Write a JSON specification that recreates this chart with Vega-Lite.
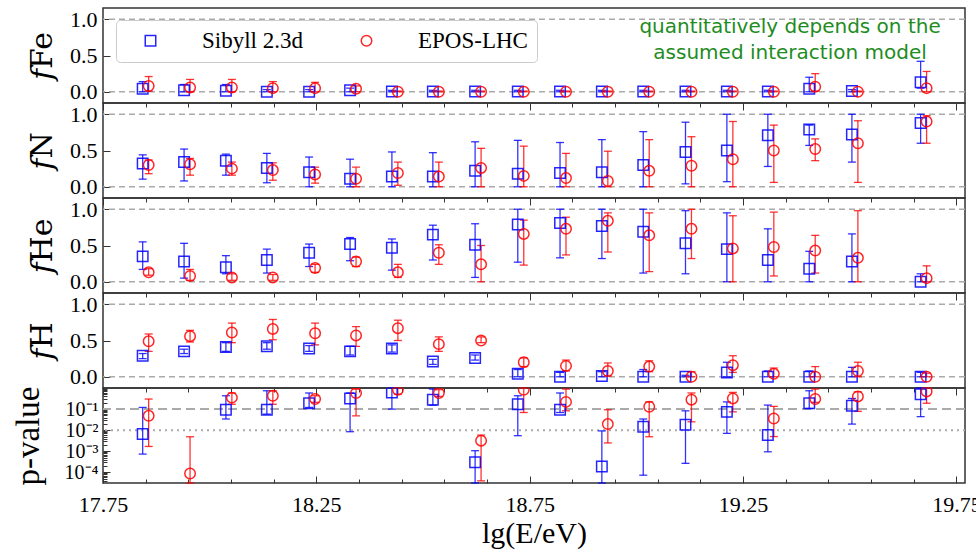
{
"$schema": "https://vega.github.io/schema/vega-lite/v6.json",
"background": "white",
"padding": {"left": 11, "top": 7, "right": 5, "bottom": 3},
"config": {
  "view": {"stroke": "#333333", "strokeWidth": 1.5},
  "axis": {"labelFont": "Liberation Serif", "titleFont": "Liberation Serif", "labelColor": "black", "titleColor": "black", "tickColor": "#333333", "domain": false, "grid": false, "labelFontSize": 22, "titleFontWeight": "normal", "tickWidth": 1, "labelOverlap": false},
  "legend": {"title": null, "orient": "none", "legendX": 13, "legendY": 12, "direction": "horizontal", "columns": 2, "fillColor": "white", "strokeColor": "#cccccc", "cornerRadius": 4, "padding": 9, "labelFont": "Liberation Serif", "labelFontSize": 23, "labelColor": "black", "labelOffset": 40, "columnPadding": 38, "symbolSize": 110, "symbolStrokeWidth": 1.5, "symbolOffset": 14, "labelLimit": 300, "symbolFillColor": "white"}
},
"datasets": {"d": [
{"m":"Sibyll 2.3d","x":17.843,"fe":0.04,"feL":0,"feH":0.14,"n":0.32,"nL":0.105,"nH":0.44,"he":0.35,"heL":0.17,"heH":0.55,"h":0.29,"hL":0.25,"hH":0.32,"p":0.0066,"pL":0.00074,"pH":0.12},
{"m":"Sibyll 2.3d","x":17.94,"fe":0.02,"feL":0,"feH":0.10,"n":0.34,"nL":0.08,"nH":0.52,"he":0.28,"heL":0.05,"heH":0.53,"h":0.35,"hL":0.32,"hH":0.38,"p":null,"pL":null,"pH":null},
{"m":"Sibyll 2.3d","x":18.038,"fe":0.015,"feL":0,"feH":0.10,"n":0.36,"nL":0.16,"nH":0.45,"he":0.20,"heL":0.11,"heH":0.36,"h":0.41,"hL":0.35,"hH":0.47,"p":0.093,"pL":0.034,"pH":0.43},
{"m":"Sibyll 2.3d","x":18.134,"fe":0,"feL":0,"feH":0.03,"n":0.26,"nL":0.055,"nH":0.46,"he":0.30,"heL":0.12,"heH":0.45,"h":0.42,"hL":0.38,"hH":0.47,"p":0.093,"pL":0.058,"pH":0.74},
{"m":"Sibyll 2.3d","x":18.233,"fe":0,"feL":0,"feH":0.03,"n":0.20,"nL":0,"nH":0.41,"he":0.40,"heL":0.21,"heH":0.52,"h":0.39,"hL":0.35,"hH":0.43,"p":0.19,"pL":0.12,"pH":0.58},
{"m":"Sibyll 2.3d","x":18.329,"fe":0.02,"feL":0,"feH":0.05,"n":0.11,"nL":0,"nH":0.38,"he":0.52,"heL":0.29,"heH":0.61,"h":0.35,"hL":0.30,"hH":0.42,"p":0.32,"pL":0.0085,"pH":0.58},
{"m":"Sibyll 2.3d","x":18.427,"fe":0.005,"feL":0,"feH":0.02,"n":0.14,"nL":0,"nH":0.48,"he":0.47,"heL":0.16,"heH":0.59,"h":0.39,"hL":0.34,"hH":0.44,"p":0.62,"pL":0.1,"pH":1},
{"m":"Sibyll 2.3d","x":18.523,"fe":0.005,"feL":0,"feH":0.02,"n":0.14,"nL":0,"nH":0.47,"he":0.65,"heL":0.30,"heH":0.78,"h":0.21,"hL":0.17,"hH":0.24,"p":0.28,"pL":0.155,"pH":0.89},
{"m":"Sibyll 2.3d","x":18.622,"fe":0.005,"feL":0,"feH":0.02,"n":0.22,"nL":0,"nH":0.62,"he":0.51,"heL":0.06,"heH":0.80,"h":0.26,"hL":0.23,"hH":0.30,"p":0.0003,"pL":0.00003,"pH":0.00107},
{"m":"Sibyll 2.3d","x":18.722,"fe":0.005,"feL":0,"feH":0.02,"n":0.18,"nL":0,"nH":0.64,"he":0.79,"heL":0.27,"heH":1,"h":0.04,"hL":0,"hH":0.10,"p":0.17,"pL":0.0055,"pH":0.43},
{"m":"Sibyll 2.3d","x":18.821,"fe":0.005,"feL":0,"feH":0.02,"n":0.19,"nL":0,"nH":0.61,"he":0.81,"heL":0.33,"heH":1,"h":0,"hL":0,"hH":0.06,"p":0.093,"pL":0.069,"pH":0.58},
{"m":"Sibyll 2.3d","x":18.919,"fe":0.005,"feL":0,"feH":0.02,"n":0.20,"nL":0,"nH":0.65,"he":0.77,"heL":0.32,"heH":1,"h":0.01,"hL":0,"hH":0.07,"p":0.00019,"pL":0.00001,"pH":0.0093},
{"m":"Sibyll 2.3d","x":19.016,"fe":0.005,"feL":0,"feH":0.02,"n":0.30,"nL":0,"nH":0.76,"he":0.69,"heL":0.12,"heH":1,"h":0,"hL":0,"hH":0.10,"p":0.0145,"pL":0.000074,"pH":0.034},
{"m":"Sibyll 2.3d","x":19.115,"fe":0.005,"feL":0,"feH":0.02,"n":0.48,"nL":0.04,"nH":0.89,"he":0.53,"heL":0.11,"heH":0.98,"h":0,"hL":0,"hH":0.02,"p":0.018,"pL":0.00027,"pH":0.083},
{"m":"Sibyll 2.3d","x":19.212,"fe":0.005,"feL":0,"feH":0.02,"n":0.50,"nL":0.07,"nH":1,"he":0.45,"heL":0,"heH":0.95,"h":0.06,"hL":0,"hH":0.20,"p":0.074,"pL":0.0071,"pH":0.22},
{"m":"Sibyll 2.3d","x":19.308,"fe":0.005,"feL":0,"feH":0.02,"n":0.71,"nL":0.28,"nH":1,"he":0.30,"heL":0,"heH":0.73,"h":0,"hL":0,"hH":0.08,"p":0.006,"pL":0.00095,"pH":0.155},
{"m":"Sibyll 2.3d","x":19.405,"fe":0.04,"feL":0,"feH":0.20,"n":0.79,"nL":0.57,"nH":0.85,"he":0.18,"heL":0,"heH":0.42,"h":0,"hL":0,"hH":0.08,"p":0.19,"pL":0.107,"pH":0.74},
{"m":"Sibyll 2.3d","x":19.505,"fe":0.01,"feL":0,"feH":0.03,"n":0.72,"nL":0.34,"nH":1,"he":0.28,"heL":0,"heH":0.66,"h":0,"hL":0,"hH":0.13,"p":0.145,"pL":0.0195,"pH":0.32},
{"m":"Sibyll 2.3d","x":19.666,"fe":0.13,"feL":0.05,"feH":0.42,"n":0.88,"nL":0.60,"nH":1,"he":0,"heL":0,"heH":0.11,"h":0,"hL":0,"hH":0.06,"p":0.51,"pL":0.044,"pH":1},
{"m":"EPOS-LHC","x":17.857,"fe":0.08,"feL":0.01,"feH":0.21,"n":0.30,"nL":0.18,"nH":0.37,"he":0.13,"heL":0.09,"heH":0.18,"h":0.49,"hL":0.35,"hH":0.59,"p":0.048,"pL":0.0017,"pH":0.30},
{"m":"EPOS-LHC","x":17.954,"fe":0.06,"feL":0,"feH":0.17,"n":0.31,"nL":0.16,"nH":0.39,"he":0.08,"heL":0.02,"heH":0.17,"h":0.56,"hL":0.48,"hH":0.64,"p":0.000089,"pL":0.00001,"pH":0.0049},
{"m":"EPOS-LHC","x":18.052,"fe":0.06,"feL":0,"feH":0.17,"n":0.25,"nL":0.16,"nH":0.34,"he":0.06,"heL":0.02,"heH":0.11,"h":0.61,"hL":0.47,"hH":0.74,"p":0.35,"pL":0.17,"pH":0.58},
{"m":"EPOS-LHC","x":18.148,"fe":0.05,"feL":0,"feH":0.14,"n":0.23,"nL":0.09,"nH":0.33,"he":0.06,"heL":0.02,"heH":0.10,"h":0.66,"hL":0.51,"hH":0.79,"p":0.43,"pL":0.17,"pH":0.74},
{"m":"EPOS-LHC","x":18.247,"fe":0.05,"feL":0,"feH":0.13,"n":0.17,"nL":0.05,"nH":0.27,"he":0.19,"heL":0.13,"heH":0.24,"h":0.60,"hL":0.44,"hH":0.74,"p":0.30,"pL":0.21,"pH":0.43},
{"m":"EPOS-LHC","x":18.343,"fe":0.04,"feL":0,"feH":0.08,"n":0.11,"nL":0,"nH":0.27,"he":0.28,"heL":0.21,"heH":0.34,"h":0.57,"hL":0.42,"hH":0.69,"p":0.58,"pL":0.048,"pH":0.89},
{"m":"EPOS-LHC","x":18.441,"fe":0,"feL":0,"feH":0.01,"n":0.19,"nL":0.02,"nH":0.34,"he":0.13,"heL":0.06,"heH":0.24,"h":0.67,"hL":0.50,"hH":0.78,"p":0.83,"pL":0.51,"pH":1},
{"m":"EPOS-LHC","x":18.537,"fe":0,"feL":0,"feH":0.01,"n":0.14,"nL":0,"nH":0.34,"he":0.40,"heL":0.24,"heH":0.51,"h":0.45,"hL":0.35,"hH":0.55,"p":0.58,"pL":0.40,"pH":0.83},
{"m":"EPOS-LHC","x":18.636,"fe":0,"feL":0,"feH":0.01,"n":0.26,"nL":0,"nH":0.53,"he":0.24,"heL":0,"heH":0.50,"h":0.50,"hL":0.47,"hH":0.55,"p":0.0032,"pL":0.00004,"pH":0.0059},
{"m":"EPOS-LHC","x":18.736,"fe":0,"feL":0,"feH":0.01,"n":0.15,"nL":0,"nH":0.56,"he":0.66,"heL":0.23,"heH":0.85,"h":0.20,"hL":0.14,"hH":0.26,"p":0.83,"pL":0.069,"pH":1},
{"m":"EPOS-LHC","x":18.835,"fe":0,"feL":0,"feH":0.01,"n":0.12,"nL":0,"nH":0.46,"he":0.73,"heL":0.37,"heH":0.89,"h":0.15,"hL":0.08,"hH":0.23,"p":0.22,"pL":0.083,"pH":0.89},
{"m":"EPOS-LHC","x":18.933,"fe":0,"feL":0,"feH":0.01,"n":0.08,"nL":0,"nH":0.49,"he":0.84,"heL":0.41,"heH":0.95,"h":0.08,"hL":0.01,"hH":0.19,"p":0.0195,"pL":0.0025,"pH":0.093},
{"m":"EPOS-LHC","x":19.03,"fe":0,"feL":0,"feH":0.01,"n":0.22,"nL":0,"nH":0.65,"he":0.64,"heL":0.14,"heH":0.95,"h":0.14,"hL":0.07,"hH":0.22,"p":0.129,"pL":0.0049,"pH":0.22},
{"m":"EPOS-LHC","x":19.129,"fe":0,"feL":0,"feH":0.01,"n":0.29,"nL":0,"nH":0.69,"he":0.73,"heL":0.32,"heH":1,"h":0,"hL":0,"hH":0.07,"p":0.28,"pL":0.025,"pH":0.58},
{"m":"EPOS-LHC","x":19.226,"fe":0,"feL":0,"feH":0.01,"n":0.38,"nL":0,"nH":0.90,"he":0.46,"heL":0,"heH":0.91,"h":0.16,"hL":0.06,"hH":0.29,"p":0.32,"pL":0.074,"pH":0.62},
{"m":"EPOS-LHC","x":19.322,"fe":0,"feL":0,"feH":0.01,"n":0.50,"nL":0.06,"nH":0.85,"he":0.48,"heL":0.08,"heH":0.96,"h":0.04,"hL":0,"hH":0.12,"p":0.036,"pL":0.005,"pH":0.135},
{"m":"EPOS-LHC","x":19.419,"fe":0.07,"feL":0.01,"feH":0.25,"n":0.52,"nL":0.36,"nH":0.66,"he":0.43,"heL":0.12,"heH":0.64,"h":0,"hL":0,"hH":0.14,"p":0.30,"pL":0.21,"pH":0.89},
{"m":"EPOS-LHC","x":19.519,"fe":0,"feL":0,"feH":0.01,"n":0.60,"nL":0.06,"nH":0.91,"he":0.33,"heL":0,"heH":0.98,"h":0.08,"hL":0,"hH":0.20,"p":0.40,"pL":0.078,"pH":0.66},
{"m":"EPOS-LHC","x":19.68,"fe":0.05,"feL":0,"feH":0.28,"n":0.90,"nL":0.60,"nH":0.98,"he":0.05,"heL":0,"heH":0.22,"h":0,"hL":0,"hH":0.05,"p":0.69,"pL":0.19,"pH":1}
]},
"bounds": "flush",
"spacing": 0,
"vconcat": [
{
 "width": 862, "height": 95,
 "layer": [
  {"data": {"values": [{"r": 0}, {"r": 1}]}, "mark": {"type": "rule", "color": "#aaaaaa", "strokeDash": [6, 4], "strokeWidth": 1.5},
   "encoding": {"y": {"field": "r", "type": "quantitative", "title": "𝑓Fe", "scale": {"domain": [-0.155, 1.155], "nice": false, "zero": false},
      "axis": {"values": [0,0.5,1], "labelOverlap": false, "format": ".1f", "tickSize": -7, "labelPadding": 13, "titleFont": "DejaVu Serif", "titleFontSize": 30, "titlePadding": 12}}}},
  {"data": {"values": [{"t": "quantitatively depends on the\nassumed interaction model"}]}, "mark": {"type": "text", "font": "DejaVu Sans", "fontSize": 20, "color": "#1e8c1e", "align": "center", "baseline": "middle", "lineBreak": "\n", "lineHeight": 26}, "encoding": {"x": {"datum": 19.36, "type": "quantitative", "title": null}, "y": {"datum": 0.89, "type": "quantitative", "title": "𝑓Fe"}, "text": {"field": "t"}}},
  {"data": {"name": "d"}, "transform": [{"filter": "datum.m == 'Sibyll 2.3d'"}], "mark": {"type": "errorbar", "ticks": {"size": 8}, "thickness": 1.3, "opacity": 0.8, "color": "#0000ff"},
   "encoding": {"x": {"field": "x", "type": "quantitative", "title": null}, "y": {"field": "feL", "type": "quantitative", "title": "𝑓Fe"}, "y2": {"field": "feH"}}},
  {"data": {"name": "d"}, "transform": [{"filter": "datum.m == 'EPOS-LHC'"}], "mark": {"type": "errorbar", "ticks": {"size": 8}, "thickness": 1.3, "opacity": 0.8, "color": "#ff0000"},
   "encoding": {"x": {"field": "x", "type": "quantitative", "title": null}, "y": {"field": "feL", "type": "quantitative", "title": "𝑓Fe"}, "y2": {"field": "feH"}}},
  {"data": {"name": "d"}, "mark": {"type": "point", "filled": false, "size": 110, "strokeWidth": 1.5, "opacity": 0.85},
   "encoding": {
    "x": {"field": "x", "type": "quantitative", "title": null, "scale": {"domain": [17.75, 19.77], "nice": false, "zero": false},
      "axis": {"values": [17.75,17.8,17.85,17.9,17.95,18,18.05,18.1,18.15,18.2,18.25,18.3,18.35,18.4,18.45,18.5,18.55,18.6,18.65,18.7,18.75,18.8,18.85,18.9,18.95,19,19.05,19.1,19.15,19.2,19.25,19.3,19.35,19.4,19.45,19.5,19.55,19.6,19.65,19.7,19.75], "labels": false, "title": null, "tickSize": {"condition": {"test": "abs(datum.value*4 - round(datum.value*4)) < 0.01", "value": 7}, "value": 4}}},
    "y": {"field": "fe", "type": "quantitative", "title": "𝑓Fe"},
    "color": {"field": "m", "type": "nominal", "title": null, "scale": {"domain": ["Sibyll 2.3d", "EPOS-LHC"], "range": ["#0000ff", "#ff0000"]}},
    "shape": {"field": "m", "type": "nominal", "title": null, "scale": {"domain": ["Sibyll 2.3d", "EPOS-LHC"], "range": ["square", "circle"]}}
   }}
 ]
},
{
 "width": 862, "height": 95,
 "layer": [
  {"data": {"values": [{"r": 0}, {"r": 1}]}, "mark": {"type": "rule", "color": "#aaaaaa", "strokeDash": [6, 4], "strokeWidth": 1.5},
   "encoding": {"y": {"field": "r", "type": "quantitative", "title": "𝑓N", "scale": {"domain": [-0.155, 1.155], "nice": false, "zero": false},
      "axis": {"values": [0,0.5,1], "labelOverlap": false, "format": ".1f", "tickSize": -7, "labelPadding": 13, "titleFont": "DejaVu Serif", "titleFontSize": 30, "titlePadding": 12}}}},
  {"data": {"name": "d"}, "transform": [{"filter": "datum.m == 'Sibyll 2.3d'"}], "mark": {"type": "errorbar", "ticks": {"size": 8}, "thickness": 1.3, "opacity": 0.8, "color": "#0000ff"},
   "encoding": {"x": {"field": "x", "type": "quantitative", "title": null}, "y": {"field": "nL", "type": "quantitative", "title": "𝑓N"}, "y2": {"field": "nH"}}},
  {"data": {"name": "d"}, "transform": [{"filter": "datum.m == 'EPOS-LHC'"}], "mark": {"type": "errorbar", "ticks": {"size": 8}, "thickness": 1.3, "opacity": 0.8, "color": "#ff0000"},
   "encoding": {"x": {"field": "x", "type": "quantitative", "title": null}, "y": {"field": "nL", "type": "quantitative", "title": "𝑓N"}, "y2": {"field": "nH"}}},
  {"data": {"name": "d"}, "mark": {"type": "point", "filled": false, "size": 110, "strokeWidth": 1.5, "opacity": 0.85},
   "encoding": {
    "x": {"field": "x", "type": "quantitative", "title": null, "scale": {"domain": [17.75, 19.77], "nice": false, "zero": false},
      "axis": {"values": [17.75,17.8,17.85,17.9,17.95,18,18.05,18.1,18.15,18.2,18.25,18.3,18.35,18.4,18.45,18.5,18.55,18.6,18.65,18.7,18.75,18.8,18.85,18.9,18.95,19,19.05,19.1,19.15,19.2,19.25,19.3,19.35,19.4,19.45,19.5,19.55,19.6,19.65,19.7,19.75], "labels": false, "title": null, "tickSize": {"condition": {"test": "abs(datum.value*4 - round(datum.value*4)) < 0.01", "value": 7}, "value": 4}}},
    "y": {"field": "n", "type": "quantitative", "title": "𝑓N"},
    "color": {"field": "m", "type": "nominal", "title": null, "scale": {"domain": ["Sibyll 2.3d", "EPOS-LHC"], "range": ["#0000ff", "#ff0000"]}},
    "shape": {"field": "m", "type": "nominal", "title": null, "scale": {"domain": ["Sibyll 2.3d", "EPOS-LHC"], "range": ["square", "circle"]}}
   }}
 ]
},
{
 "width": 862, "height": 95,
 "layer": [
  {"data": {"values": [{"r": 0}, {"r": 1}]}, "mark": {"type": "rule", "color": "#aaaaaa", "strokeDash": [6, 4], "strokeWidth": 1.5},
   "encoding": {"y": {"field": "r", "type": "quantitative", "title": "𝑓He", "scale": {"domain": [-0.155, 1.155], "nice": false, "zero": false},
      "axis": {"values": [0,0.5,1], "labelOverlap": false, "format": ".1f", "tickSize": -7, "labelPadding": 13, "titleFont": "DejaVu Serif", "titleFontSize": 30, "titlePadding": 12}}}},
  {"data": {"name": "d"}, "transform": [{"filter": "datum.m == 'Sibyll 2.3d'"}], "mark": {"type": "errorbar", "ticks": {"size": 8}, "thickness": 1.3, "opacity": 0.8, "color": "#0000ff"},
   "encoding": {"x": {"field": "x", "type": "quantitative", "title": null}, "y": {"field": "heL", "type": "quantitative", "title": "𝑓He"}, "y2": {"field": "heH"}}},
  {"data": {"name": "d"}, "transform": [{"filter": "datum.m == 'EPOS-LHC'"}], "mark": {"type": "errorbar", "ticks": {"size": 8}, "thickness": 1.3, "opacity": 0.8, "color": "#ff0000"},
   "encoding": {"x": {"field": "x", "type": "quantitative", "title": null}, "y": {"field": "heL", "type": "quantitative", "title": "𝑓He"}, "y2": {"field": "heH"}}},
  {"data": {"name": "d"}, "mark": {"type": "point", "filled": false, "size": 110, "strokeWidth": 1.5, "opacity": 0.85},
   "encoding": {
    "x": {"field": "x", "type": "quantitative", "title": null, "scale": {"domain": [17.75, 19.77], "nice": false, "zero": false},
      "axis": {"values": [17.75,17.8,17.85,17.9,17.95,18,18.05,18.1,18.15,18.2,18.25,18.3,18.35,18.4,18.45,18.5,18.55,18.6,18.65,18.7,18.75,18.8,18.85,18.9,18.95,19,19.05,19.1,19.15,19.2,19.25,19.3,19.35,19.4,19.45,19.5,19.55,19.6,19.65,19.7,19.75], "labels": false, "title": null, "tickSize": {"condition": {"test": "abs(datum.value*4 - round(datum.value*4)) < 0.01", "value": 7}, "value": 4}}},
    "y": {"field": "he", "type": "quantitative", "title": "𝑓He"},
    "color": {"field": "m", "type": "nominal", "title": null, "scale": {"domain": ["Sibyll 2.3d", "EPOS-LHC"], "range": ["#0000ff", "#ff0000"]}},
    "shape": {"field": "m", "type": "nominal", "title": null, "scale": {"domain": ["Sibyll 2.3d", "EPOS-LHC"], "range": ["square", "circle"]}}
   }}
 ]
},
{
 "width": 862, "height": 95,
 "layer": [
  {"data": {"values": [{"r": 0}, {"r": 1}]}, "mark": {"type": "rule", "color": "#aaaaaa", "strokeDash": [6, 4], "strokeWidth": 1.5},
   "encoding": {"y": {"field": "r", "type": "quantitative", "title": "𝑓H", "scale": {"domain": [-0.155, 1.155], "nice": false, "zero": false},
      "axis": {"values": [0,0.5,1], "labelOverlap": false, "format": ".1f", "tickSize": -7, "labelPadding": 13, "titleFont": "DejaVu Serif", "titleFontSize": 30, "titlePadding": 12}}}},
  {"data": {"name": "d"}, "transform": [{"filter": "datum.m == 'Sibyll 2.3d'"}], "mark": {"type": "errorbar", "ticks": {"size": 8}, "thickness": 1.3, "opacity": 0.8, "color": "#0000ff"},
   "encoding": {"x": {"field": "x", "type": "quantitative", "title": null}, "y": {"field": "hL", "type": "quantitative", "title": "𝑓H"}, "y2": {"field": "hH"}}},
  {"data": {"name": "d"}, "transform": [{"filter": "datum.m == 'EPOS-LHC'"}], "mark": {"type": "errorbar", "ticks": {"size": 8}, "thickness": 1.3, "opacity": 0.8, "color": "#ff0000"},
   "encoding": {"x": {"field": "x", "type": "quantitative", "title": null}, "y": {"field": "hL", "type": "quantitative", "title": "𝑓H"}, "y2": {"field": "hH"}}},
  {"data": {"name": "d"}, "mark": {"type": "point", "filled": false, "size": 110, "strokeWidth": 1.5, "opacity": 0.85},
   "encoding": {
    "x": {"field": "x", "type": "quantitative", "title": null, "scale": {"domain": [17.75, 19.77], "nice": false, "zero": false},
      "axis": {"values": [17.75,17.8,17.85,17.9,17.95,18,18.05,18.1,18.15,18.2,18.25,18.3,18.35,18.4,18.45,18.5,18.55,18.6,18.65,18.7,18.75,18.8,18.85,18.9,18.95,19,19.05,19.1,19.15,19.2,19.25,19.3,19.35,19.4,19.45,19.5,19.55,19.6,19.65,19.7,19.75], "labels": false, "title": null, "tickSize": {"condition": {"test": "abs(datum.value*4 - round(datum.value*4)) < 0.01", "value": 7}, "value": 4}}},
    "y": {"field": "h", "type": "quantitative", "title": "𝑓H"},
    "color": {"field": "m", "type": "nominal", "title": null, "scale": {"domain": ["Sibyll 2.3d", "EPOS-LHC"], "range": ["#0000ff", "#ff0000"]}},
    "shape": {"field": "m", "type": "nominal", "title": null, "scale": {"domain": ["Sibyll 2.3d", "EPOS-LHC"], "range": ["square", "circle"]}}
   }}
 ]
},
{
 "width": 862, "height": 95,
 "layer": [
  {"data": {"values": [{"r": 0.1}]}, "mark": {"type": "rule", "color": "#aaaaaa", "strokeDash": [9, 5], "strokeWidth": 2},
   "encoding": {"y": {"field": "r", "type": "quantitative", "title": "p-value", "scale": {"type": "log", "domain": [0.0000316, 1], "nice": false, "clamp": true},
      "axis": {"values": [0.00004,0.00005,0.00006,0.00007,0.00008,0.00009,0.0001,0.0002,0.0003,0.0004,0.0005,0.0006,0.0007,0.0008,0.0009,0.001,0.002,0.003,0.004,0.005,0.006,0.007,0.008,0.009,0.01,0.02,0.03,0.04,0.05,0.06,0.07,0.08,0.09,0.1,0.2,0.3,0.4,0.5,0.6,0.7,0.8,0.9], "labelExpr": "datum.value > 0.09 && datum.value < 0.11 ? '10⁻¹' : datum.value > 0.009 && datum.value < 0.011 ? '10⁻²' : datum.value > 0.0009 && datum.value < 0.0011 ? '10⁻³' : datum.value > 0.00009 && datum.value < 0.00011 ? '10⁻⁴' : ''", "tickSize": {"condition": {"test": "abs(log(datum.value)/LN10 - round(log(datum.value)/LN10)) < 0.01", "value": -7}, "value": -4}, "labelPadding": 12, "labelOverlap": false, "labelFontSize": 20, "titleFontSize": 33, "titlePadding": 19}}}},
  {"data": {"values": [{"r": 0.01}]}, "mark": {"type": "rule", "color": "#aaaaaa", "strokeDash": [2, 4], "strokeWidth": 2},
   "encoding": {"y": {"field": "r", "type": "quantitative", "title": "p-value"}}},
  {"data": {"name": "d"}, "transform": [{"filter": "isValid(datum.p) && datum.m == 'Sibyll 2.3d'"}], "mark": {"type": "errorbar", "ticks": {"size": 8}, "thickness": 1.3, "opacity": 0.8, "color": "#0000ff"},
   "encoding": {"x": {"field": "x", "type": "quantitative", "title": "lg(E/eV)"}, "y": {"field": "pL", "type": "quantitative", "title": "p-value"}, "y2": {"field": "pH"}}},
  {"data": {"name": "d"}, "transform": [{"filter": "isValid(datum.p) && datum.m == 'EPOS-LHC'"}], "mark": {"type": "errorbar", "ticks": {"size": 8}, "thickness": 1.3, "opacity": 0.8, "color": "#ff0000"},
   "encoding": {"x": {"field": "x", "type": "quantitative", "title": "lg(E/eV)"}, "y": {"field": "pL", "type": "quantitative", "title": "p-value"}, "y2": {"field": "pH"}}},
  {"data": {"name": "d"}, "transform": [{"filter": "isValid(datum.p)"}], "mark": {"type": "point", "filled": false, "size": 110, "strokeWidth": 1.5, "opacity": 0.85, "clip": true},
   "encoding": {
    "x": {"field": "x", "type": "quantitative", "title": "lg(E/eV)", "scale": {"domain": [17.75, 19.77], "nice": false, "zero": false},
      "axis": {"values": [17.75,17.8,17.85,17.9,17.95,18,18.05,18.1,18.15,18.2,18.25,18.3,18.35,18.4,18.45,18.5,18.55,18.6,18.65,18.7,18.75,18.8,18.85,18.9,18.95,19,19.05,19.1,19.15,19.2,19.25,19.3,19.35,19.4,19.45,19.5,19.55,19.6,19.65,19.7,19.75], "labelExpr": "abs(datum.value*4 - round(datum.value*4)) < 0.01 ? format(datum.value, '.2f') : ''", "tickSize": {"condition": {"test": "abs(datum.value*4 - round(datum.value*4)) < 0.01", "value": -7}, "value": -4}, "labelPadding": 18, "titleFontSize": 30, "titlePadding": 0, "labelFlush": false, "labelOverlap": false}},
    "y": {"field": "p", "type": "quantitative", "title": "p-value"},
    "color": {"field": "m", "type": "nominal", "title": null, "scale": {"domain": ["Sibyll 2.3d", "EPOS-LHC"], "range": ["#0000ff", "#ff0000"]}},
    "shape": {"field": "m", "type": "nominal", "title": null, "scale": {"domain": ["Sibyll 2.3d", "EPOS-LHC"], "range": ["square", "circle"]}}
   }}
 ]
}
]
}
